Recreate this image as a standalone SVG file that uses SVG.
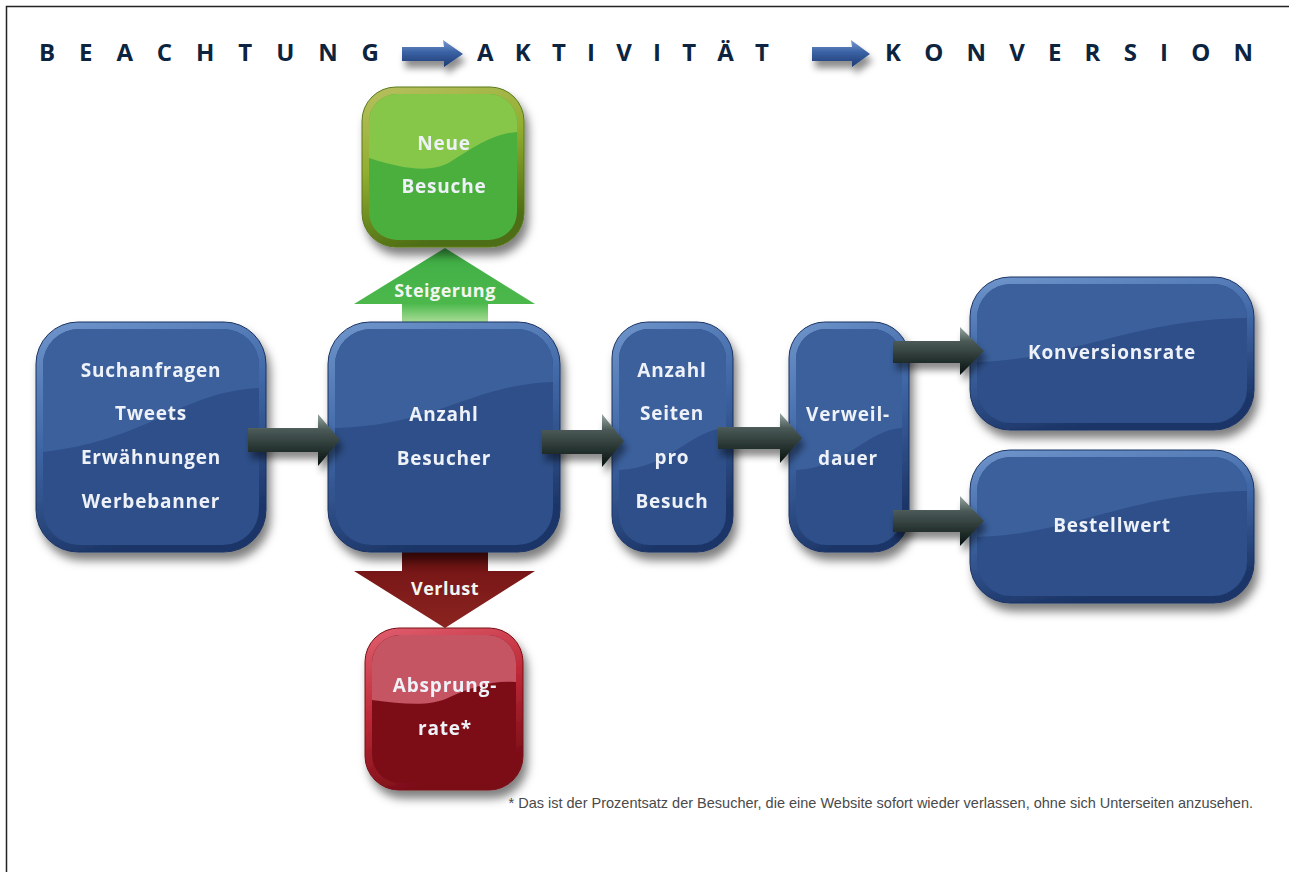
<svg xmlns="http://www.w3.org/2000/svg" width="1289" height="872" viewBox="0 0 1289 872">
<style>
.nt{font-family:"Open Sans","Noto Sans","Liberation Sans",sans-serif;font-weight:700;font-size:19px;fill:#eef2f8;text-anchor:middle;letter-spacing:0.8px}
.lb{font-family:"Open Sans","Noto Sans","Liberation Sans",sans-serif;font-weight:700;font-size:18px;fill:#f2f5f0;text-anchor:middle;letter-spacing:0.5px}
.hd{font-family:"Open Sans","Noto Sans","Liberation Sans",sans-serif;font-weight:700;font-size:24px;fill:#0d2440}
.fn{font-family:"Liberation Sans",Arial,sans-serif;font-size:14.5px;fill:#4a4a4a;text-anchor:end}
.bRim{fill:url(#gBlueRim);stroke:#1b3362;stroke-width:1}
.bIn{fill:#2d4f89}
.bWave{fill:#3b609c}
.conn{fill:url(#gConn);filter:url(#shA)}
</style>
<defs>
<linearGradient id="gBlueRim" x1="0" y1="0" x2="0.3" y2="1">
<stop offset="0" stop-color="#7096cc"/><stop offset="0.5" stop-color="#3f67a6"/><stop offset="1" stop-color="#1d3668"/>
</linearGradient>
<linearGradient id="gGreenRim" x1="0" y1="0" x2="0.3" y2="1">
<stop offset="0" stop-color="#b8c060"/><stop offset="0.5" stop-color="#92ae30"/><stop offset="1" stop-color="#4e6e14"/>
</linearGradient>
<linearGradient id="gRedRim" x1="0" y1="0" x2="0.3" y2="1">
<stop offset="0" stop-color="#e06070"/><stop offset="0.5" stop-color="#c02a38"/><stop offset="1" stop-color="#7a0e18"/>
</linearGradient>
<linearGradient id="gConn" x1="0" y1="0" x2="0" y2="1">
<stop offset="0" stop-color="#9aa8a4"/><stop offset="0.3" stop-color="#4a5a57"/><stop offset="1" stop-color="#07110f"/>
</linearGradient>
<linearGradient id="gHead" x1="0" y1="0" x2="0" y2="1">
<stop offset="0" stop-color="#7a9ad0"/><stop offset="0.45" stop-color="#3a62a4"/><stop offset="1" stop-color="#1c3a72"/>
</linearGradient>
<linearGradient id="gUp" x1="0" y1="0" x2="0" y2="1">
<stop offset="0" stop-color="#3fae45"/><stop offset="0.75" stop-color="#4cb84c"/><stop offset="1" stop-color="#a8dc96"/>
</linearGradient>
<linearGradient id="gDown" x1="0" y1="0" x2="0" y2="1">
<stop offset="0" stop-color="#5a0c0c"/><stop offset="0.3" stop-color="#7a1818"/><stop offset="1" stop-color="#8a2420"/>
</linearGradient>
<filter id="sh" x="-20%" y="-20%" width="150%" height="150%">
<feDropShadow dx="4" dy="8" stdDeviation="5" flood-color="#000" flood-opacity="0.5"/>
</filter>
<filter id="shA" x="-20%" y="-30%" width="150%" height="200%">
<feDropShadow dx="3" dy="7" stdDeviation="3.5" flood-color="#000" flood-opacity="0.45"/>
</filter>
<clipPath id="c1"><rect x="43" y="329" width="216" height="216" rx="36"/></clipPath>
<clipPath id="c2"><rect x="335" y="329" width="218" height="216" rx="36"/></clipPath>
<clipPath id="c3"><rect x="619" y="329" width="107" height="216" rx="30"/></clipPath>
<clipPath id="c4"><rect x="796" y="329" width="106" height="216" rx="30"/></clipPath>
<clipPath id="c5"><rect x="977" y="284" width="270" height="139" rx="34"/></clipPath>
<clipPath id="c6"><rect x="977" y="457" width="270" height="139" rx="34"/></clipPath>
<clipPath id="cg"><rect x="369" y="94" width="148" height="146" rx="28"/></clipPath>
<clipPath id="cr"><rect x="372" y="635" width="144" height="148" rx="28"/></clipPath>
</defs>

<rect width="1289" height="872" fill="#ffffff"/>
<path d="M6.5 872 V6.5 H1289" fill="none" stroke="#222" stroke-width="1.5"/>

<g id="header">
<text class="hd" x="39" y="61" textLength="340" lengthAdjust="spacing">BEACHTUNG</text>
<text class="hd" x="477" y="61" textLength="292" lengthAdjust="spacing">AKTIVITÄT</text>
<text class="hd" x="885" y="61" textLength="368" lengthAdjust="spacing">KONVERSION</text>
<polygon points="402,47 444,47 443,40 463,54 444,67 444,61 402,61" fill="url(#gHead)" filter="url(#shA)"/>
<polygon points="812,47 852,47 851,40 870,54 852,67 852,61 812,61" fill="url(#gHead)" filter="url(#shA)"/>
</g>

<g id="flowarrows">
<g id="up">
<polygon points="402,322 402,304 354,304 445,248 535,304 488,304 488,322" fill="url(#gUp)"/>
<text class="lb" x="445" y="297">Steigerung</text>
</g>
<g id="down">
<polygon points="402,552 402,571 354,571 445,628 535,571 488,571 488,552" fill="url(#gDown)"/>
<text class="lb" x="445" y="595">Verlust</text>
</g>
</g>

<g id="n-neue" filter="url(#sh)">
<rect x="362" y="87" width="162" height="160" rx="34" fill="url(#gGreenRim)" stroke="#5a7a1c"/>
<rect x="369" y="94" width="148" height="146" rx="28" fill="#4caf3e"/>
<path clip-path="url(#cg)" d="M369 94 H517 V132 C490 134 470 150 450 162 C430 174 400 168 369 158 Z" fill="#86c64a"/>
<text class="nt" x="444" y="150">Neue</text>
<text class="nt" x="444" y="193">Besuche</text>
</g>

<g id="n-absprung" filter="url(#sh)">
<rect x="365" y="628" width="158" height="162" rx="34" fill="url(#gRedRim)" stroke="#7a1018"/>
<rect x="372" y="635" width="144" height="148" rx="28" fill="#7c1016"/>
<path clip-path="url(#cr)" d="M372 635 H516 V682 C490 680 470 688 450 697 C430 707 405 704 372 700 Z" fill="#c65464"/>
<text class="nt" x="445" y="692">Absprung-</text>
<text class="nt" x="445" y="735">rate*</text>
</g>

<g id="n-quellen" filter="url(#sh)">
<rect class="bRim" x="36" y="322" width="230" height="230" rx="42"/>
<rect class="bIn" x="43" y="329" width="216" height="216" rx="36"/>
<path class="bWave" clip-path="url(#c1)" d="M43 329 H259 V388 C180 392 150 440 43 452 Z"/>
<text class="nt" x="151" y="377">Suchanfragen</text>
<text class="nt" x="151" y="420">Tweets</text>
<text class="nt" x="151" y="464">Erwähnungen</text>
<text class="nt" x="151" y="508">Werbebanner</text>
</g>

<g id="n-besucher" filter="url(#sh)">
<rect class="bRim" x="328" y="322" width="232" height="230" rx="42"/>
<rect class="bIn" x="335" y="329" width="218" height="216" rx="36"/>
<path class="bWave" clip-path="url(#c2)" d="M335 329 H553 V382 C470 385 440 425 335 428 Z"/>
<text class="nt" x="444" y="421">Anzahl</text>
<text class="nt" x="444" y="465">Besucher</text>
</g>

<g id="n-seiten" filter="url(#sh)">
<rect class="bRim" x="612" y="322" width="121" height="230" rx="36"/>
<rect class="bIn" x="619" y="329" width="107" height="216" rx="30"/>
<path class="bWave" clip-path="url(#c3)" d="M619 329 H726 V428 C690 430 670 468 619 470 Z"/>
<text class="nt" x="672" y="377">Anzahl</text>
<text class="nt" x="672" y="420">Seiten</text>
<text class="nt" x="672" y="464">pro</text>
<text class="nt" x="672" y="508">Besuch</text>
</g>

<g id="n-verweildauer" filter="url(#sh)">
<rect class="bRim" x="789" y="322" width="120" height="230" rx="36"/>
<rect class="bIn" x="796" y="329" width="106" height="216" rx="30"/>
<path class="bWave" clip-path="url(#c4)" d="M796 329 H902 V428 C866 430 846 468 796 470 Z"/>
<text class="nt" x="848" y="421">Verweil-</text>
<text class="nt" x="848" y="465">dauer</text>
</g>

<g id="n-konversionsrate" filter="url(#sh)">
<rect class="bRim" x="970" y="277" width="284" height="153" rx="40"/>
<rect class="bIn" x="977" y="284" width="270" height="139" rx="34"/>
<path class="bWave" clip-path="url(#c5)" d="M977 284 H1247 V318 C1130 320 1070 360 977 362 Z"/>
<text class="nt" x="1112" y="359">Konversionsrate</text>
</g>

<g id="n-bestellwert" filter="url(#sh)">
<rect class="bRim" x="970" y="450" width="284" height="153" rx="40"/>
<rect class="bIn" x="977" y="457" width="270" height="139" rx="34"/>
<path class="bWave" clip-path="url(#c6)" d="M977 457 H1247 V491 C1130 493 1070 535 977 537 Z"/>
<text class="nt" x="1112" y="532">Bestellwert</text>
</g>

<g id="connectors">
<polygon class="conn" points="248,428 318,428 318,414 340,440 318,466 318,452 248,452"/>
<polygon class="conn" points="542,430 602,430 602,414 624,441 602,467 602,454 542,454"/>
<polygon class="conn" points="718,427 780,427 780,413 802,438 780,463 780,449 718,449"/>
<polygon class="conn" points="893,341 960,341 960,327 984,351 960,375 960,363 893,363"/>
<polygon class="conn" points="893,510 960,510 960,496 984,521 960,546 960,532 893,532"/>
</g>

<text class="fn" x="1253" y="808">* Das ist der Prozentsatz der Besucher, die eine Website sofort wieder verlassen, ohne sich Unterseiten anzusehen.</text>
</svg>
